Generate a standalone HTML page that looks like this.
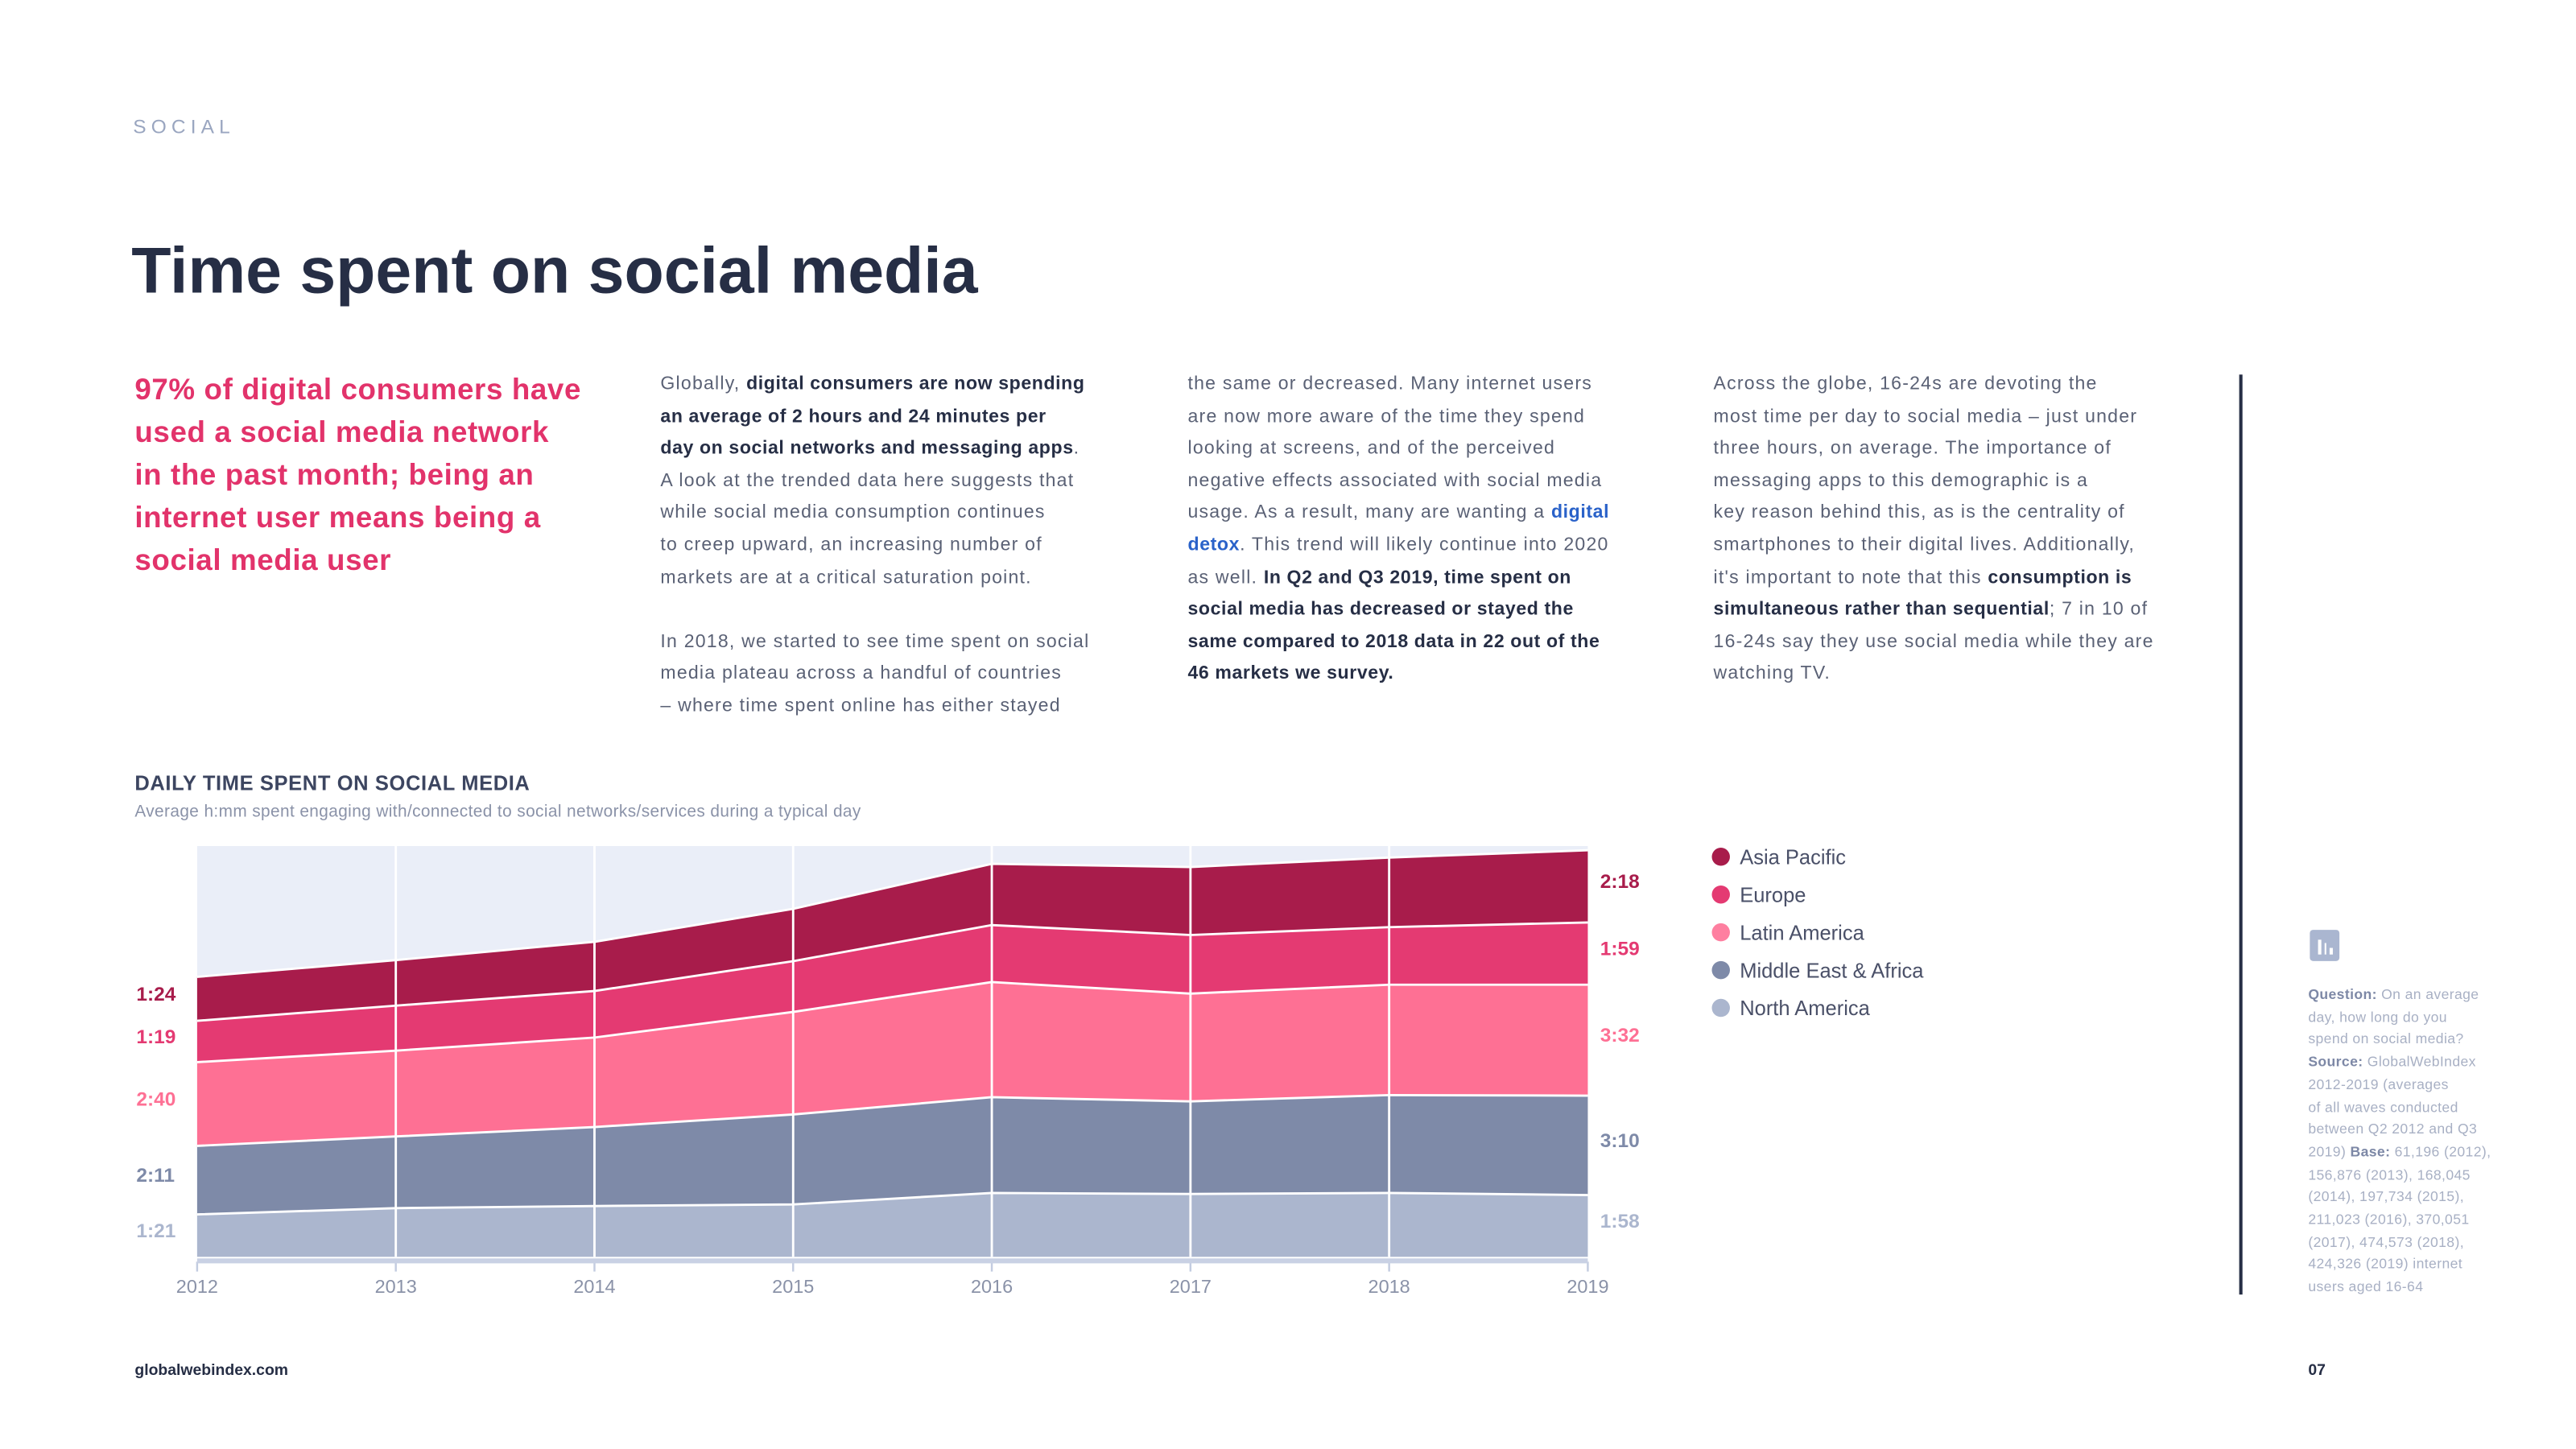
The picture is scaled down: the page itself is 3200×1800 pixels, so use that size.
<!DOCTYPE html>
<html><head><meta charset="utf-8"><style>
html,body{margin:0;padding:0;background:#fff;}
body{width:3200px;height:1800px;overflow:hidden;}
#page{position:absolute;left:0;top:0;width:1568px;height:882px;transform:scale(2.0408);transform-origin:0 0;font-family:"Liberation Sans",sans-serif;}
.abs{position:absolute;}
.col{position:absolute;top:225px;font-size:11.3px;line-height:19.6px;color:#5a6175;white-space:nowrap;letter-spacing:0.6px;}
.col b{color:#262e45;letter-spacing:0.3px;}
.note{position:absolute;left:1405px;top:599px;font-size:8.6px;line-height:13.7px;color:#a8b0c4;white-space:nowrap;letter-spacing:0.2px;}
.note b{color:#7d88a6;}
.leg{position:absolute;left:1042px;font-size:12.5px;color:#4a5068;}
.leg span{display:inline-block;width:11px;height:11px;border-radius:50%;vertical-align:-1px;margin-right:6px;}
</style></head><body>
<div id="page">
<div class="abs" style="left:81px;top:70px;font-size:12px;letter-spacing:3px;color:#9aa6c0;">SOCIAL</div>
<div class="abs" style="left:80px;top:143px;font-size:39.5px;font-weight:bold;color:#262e45;">Time spent on social media</div>
<div class="abs" style="left:82px;top:224px;font-size:18px;line-height:26px;font-weight:bold;color:#e2336b;white-space:nowrap;letter-spacing:0.3px;">97% of digital consumers have<br>used a social media network<br>in the past month; being an<br>internet user means being a<br>social media user</div>
<div class="col" style="left:402px;">Globally, <b>digital consumers are now spending</b><br><b>an average of 2 hours and 24 minutes per</b><br><b>day on social networks and messaging apps</b>.<br>A look at the trended data here suggests that<br>while social media consumption continues<br>to creep upward, an increasing number of<br>markets are at a critical saturation point.<br><br>In 2018, we started to see time spent on social<br>media plateau across a handful of countries<br>– where time spent online has either stayed</div>
<div class="col" style="left:723px;">the same or decreased. Many internet users<br>are now more aware of the time they spend<br>looking at screens, and of the perceived<br>negative effects associated with social media<br>usage. As a result, many are wanting a <b style="color:#2a62c9">digital</b><br><b style="color:#2a62c9">detox</b>. This trend will likely continue into 2020<br>as well. <b>In Q2 and Q3 2019, time spent on</b><br><b>social media has decreased or stayed the</b><br><b>same compared to 2018 data in 22 out of the</b><br><b>46 markets we survey.</b></div>
<div class="col" style="left:1043px;">Across the globe, 16-24s are devoting the<br>most time per day to social media – just under<br>three hours, on average. The importance of<br>messaging apps to this demographic is a<br>key reason behind this, as is the centrality of<br>smartphones to their digital lives. Additionally,<br>it's important to note that this <b>consumption is</b><br><b>simultaneous rather than sequential</b>; 7 in 10 of<br>16-24s say they use social media while they are<br>watching TV.</div>
<div class="abs" style="left:1363px;top:228px;width:1.5px;height:560px;background:#262e45;"></div>
<div class="abs" style="left:82px;top:470px;font-size:12.5px;font-weight:bold;color:#3c4560;letter-spacing:0.3px;">DAILY TIME SPENT ON SOCIAL MEDIA</div>
<div class="abs" style="left:82px;top:489px;font-size:10.2px;color:#8a92a8;letter-spacing:0.2px;">Average h:mm spent engaging with/connected to social networks/services during a typical day</div>
<svg id="chart" class="abs" style="left:0;top:0" width="1568" height="882"></svg>
<div class="leg" style="top:515px"><span style="background:#a81c4b"></span>Asia Pacific</div>
<div class="leg" style="top:538px"><span style="background:#e43a72"></span>Europe</div>
<div class="leg" style="top:561px"><span style="background:#fe7fa0"></span>Latin America</div>
<div class="leg" style="top:584px"><span style="background:#7e8aa8"></span>Middle East &amp; Africa</div>
<div class="leg" style="top:607px"><span style="background:#abb6ce"></span>North America</div>
<div class="abs" style="left:1406px;top:566px;width:18px;height:19px;background:#aab6d0;border-radius:2px;">
<div class="abs" style="left:5px;top:6px;width:1.5px;height:9px;background:#fff"></div><div class="abs" style="left:8.5px;top:8px;width:1.5px;height:7px;background:#fff"></div><div class="abs" style="left:12px;top:11px;width:1.5px;height:4px;background:#fff"></div></div>
<div class="note"><b>Question:</b> On an average<br>day, how long do you<br>spend on social media?<br><b>Source:</b> GlobalWebIndex<br>2012-2019 (averages<br>of all waves conducted<br>between Q2 2012 and Q3<br>2019) <b>Base:</b> 61,196 (2012),<br>156,876 (2013), 168,045<br>(2014), 197,734 (2015),<br>211,023 (2016), 370,051<br>(2017), 474,573 (2018),<br>424,326 (2019) internet<br>users aged 16-64</div>
<div class="abs" style="left:82px;top:829px;font-size:9.5px;font-weight:bold;color:#262e45;">globalwebindex.com</div>
<div class="abs" style="left:1405px;top:829px;font-size:9.5px;font-weight:bold;color:#262e45;">07</div>
</div>
<script>
const years = [2012,2013,2014,2015,2016,2017,2018,2019];
const northAmerica = [81,93,97,100,122,120,122,118];
const middleEastAfrica = [131,137,151,172,183,177,187,190];
const latinAmerica = [160,164,171,196,220,206,211,212];
const europe = [79,86,89,97,109,112,110,119];
const asiaPacific = [84,87,94,100,117,130,133,138];
const seriesNames = ['north-america','middle-east-africa','latin-america','europe','asia-pacific'];
const seriesColors = ['#abb6ce','#7e8aa8','#fe7094','#e43a72','#a81c4b'];
const yMax = 785;
const series = [northAmerica,middleEastAfrica,latinAmerica,europe,asiaPacific];
const L=120,R=966.5,T=515,B=765;
const xS = i => L + (R-L)*i/(years.length-1);
const yS = v => B - (B-T)*v/yMax;
const fmt = m => Math.floor(m/60)+':'+String(m%60).padStart(2,'0');
const svg = document.getElementById('chart');
const NS='http://www.w3.org/2000/svg';
function mk(t,a){const e=document.createElementNS(NS,t);for(const k in a)e.setAttribute(k,a[k]);svg.appendChild(e);return e;}
const bg = mk('rect',{x:L,y:T,width:R-L,height:B-T,fill:'#eaeef8'});


let base = years.map(()=>0);
const tops=[];
series.forEach((s,si)=>{
  const top = base.map((b,i)=>b+s[i]);
  let d='M'+years.map((_,i)=>xS(i)+','+yS(top[i])).join('L');
  for(let i=years.length-1;i>=0;i--) d+='L'+xS(i)+','+yS(base[i]);
  const p = mk('path',{d:d+'Z',fill:seriesColors[si]});
  
  
  tops.push({top,base:base.slice()});
  base = top;
});
tops.forEach((t,si)=>{
  const l = mk('polyline',{points:years.map((_,i)=>xS(i)+','+yS(t.top[i])).join(' '),fill:'none',stroke:'#fff','stroke-width':1.4});
  
  
});
years.forEach((y,i)=>{
  if(i>0&&i<years.length-1){
    const g = mk('line',{x1:xS(i),x2:xS(i),y1:T,y2:B,stroke:'#fff','stroke-width':1.4});
    
    
  }
  const tk = mk('line',{x1:xS(i),x2:xS(i),y1:768,y2:774,stroke:'#c3cce0','stroke-width':1.2});
  
  
  const tx = mk('text',{x:xS(i),y:787,'text-anchor':'middle','font-size':11.5,fill:'#8a92a8','font-family':'Liberation Sans, sans-serif'});
  tx.textContent=y;
  
  
});
const ax = mk('rect',{x:L,y:766,width:R-L,height:3,fill:'#c9d1e4'});


const labelColors=['#abb6ce','#7e8aa8','#fe7094','#e43a72','#a81c4b'];
tops.forEach((t,si)=>{
  const n=years.length-1;
  const yl=(yS(t.top[0])+yS(t.base[0]))/2+1;
  const a = mk('text',{x:83,y:yl,'font-size':12,'font-weight':'bold',fill:labelColors[si],'font-family':'Liberation Sans, sans-serif'});
  a.textContent=fmt(series[si][0]);
  
  
  const yr=(yS(t.top[n])+yS(t.base[n]))/2+1;
  const b = mk('text',{x:974,y:yr,'font-size':12,'font-weight':'bold',fill:labelColors[si],'font-family':'Liberation Sans, sans-serif'});
  b.textContent=fmt(series[si][n]);
  
  
});
</script>
</body></html>
